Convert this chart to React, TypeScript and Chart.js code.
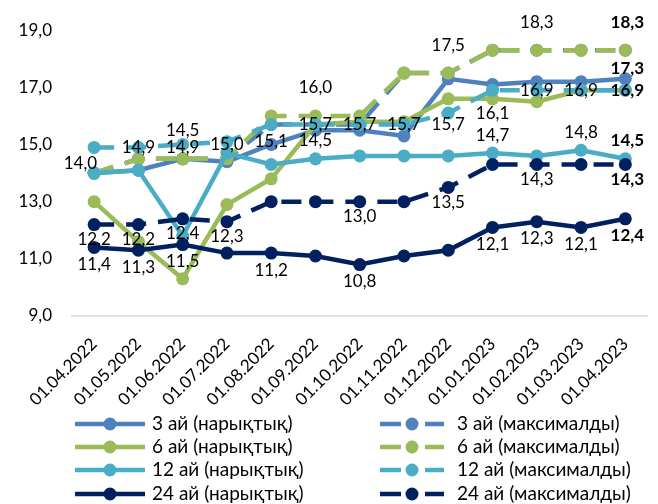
import React, { useEffect, useRef } from 'react';
import { Chart, registerables } from 'chart.js';

Chart.register(...registerables);

const categories = [
  '01.04.2022', '01.05.2022', '01.06.2022', '01.07.2022', '01.08.2022', '01.09.2022',
  '01.10.2022', '01.11.2022', '01.12.2022', '01.01.2023', '01.02.2023', '01.03.2023', '01.04.2023',
];

const seriesNames = [
  '3 ай (нарықтық)', '3 ай (максималды)',
  '6 ай (нарықтық)', '6 ай (максималды)',
  '12 ай (нарықтық)', '12 ай (максималды)',
  '24 ай (нарықтық)', '24 ай (максималды)',
];

const mkt3 = [14.0, 14.1, 14.5, 14.4, 15.0, 15.5, 15.5, 15.3, 17.3, 17.1, 17.2, 17.2, 17.3];
const max3 = [14.0, 14.5, 14.5, 14.5, 15.7, 15.7, 15.7, 17.5, 17.5, 18.3, 18.3, 18.3, 18.3];
const mkt6 = [13.0, 11.6, 10.3, 12.9, 13.8, 15.7, 15.8, 15.8, 16.6, 16.6, 16.5, 16.9, 16.9];
const max6 = [14.0, 14.5, 14.5, 14.5, 16.0, 16.0, 16.0, 17.5, 17.5, 18.3, 18.3, 18.3, 18.3];
const mkt12 = [14.0, 14.1, 11.8, 14.7, 14.3, 14.5, 14.6, 14.6, 14.6, 14.7, 14.6, 14.8, 14.5];
const max12 = [14.9, 14.9, 15.0, 15.1, 15.7, 15.7, 15.7, 15.7, 16.1, 16.9, 16.9, 16.9, 16.9];
const mkt24 = [11.4, 11.3, 11.5, 11.2, 11.2, 11.1, 10.8, 11.1, 11.3, 12.1, 12.3, 12.1, 12.4];
const max24 = [12.2, 12.2, 12.4, 12.3, 13.0, 13.0, 13.0, 13.0, 13.5, 14.3, 14.3, 14.3, 14.3];

// data-label values (null = no label)
const lblMkt3 = [14.0, null, null, null, null, null, null, null, null, null, null, null, 17.3];
const lblMax12 = [null, 14.9, 14.9, 15.0, 15.1, 15.7, 15.7, 15.7, 15.7, 16.1, 16.9, 16.9, 16.9];
const lblMax6 = [null, null, 14.5, null, null, 16.0, null, null, 17.5, null, 18.3, null, 18.3];
const lblMkt12 = [null, null, null, null, null, 14.5, null, null, null, 14.7, null, 14.8, 14.5];
const lblMkt24 = [11.4, 11.3, 11.5, null, 11.2, null, 10.8, null, null, 12.1, 12.3, 12.1, 12.4];
const lblMax24 = [12.2, 12.2, 12.4, 12.3, null, null, 13.0, null, 13.5, null, 14.3, null, 14.3];

const yTicks = [9, 11, 13, 15, 17, 19];

const colors = ['#4F81BD', '#4F81BD', '#9BBB59', '#9BBB59', '#4BACC6', '#4BACC6', '#002060', '#002060'];
const FONT = 'Lato';

const fmt = (v: number) => v.toFixed(1).replace('.', ',');

export default function App() {
  const ref = useRef<HTMLCanvasElement>(null);

  useEffect(() => {
    const series = [mkt3, max3, mkt6, max6, mkt12, max12, mkt24, max24];
    const DASH = [20, 12];
    const datasets = series.map((d, i) => ({
      label: seriesNames[i],
      data: d,
      borderColor: colors[i],
      backgroundColor: colors[i],
      borderWidth: 4.5,
      borderDash: i % 2 ? DASH : [],
      pointRadius: 6.5,
      pointHoverRadius: 6.5,
      pointBorderWidth: 0,
      pointBackgroundColor: colors[i],
      tension: 0,
      fill: false,
      order: 7 - i,
    }));

    const labelGroups = [
      { vals: lblMkt3, dy: -10, mode: 'mkt3' },
      { vals: lblMax12, dy: 0, mode: 'c' },
      { vals: lblMax6, dy: -28, mode: 'c' },
      { vals: lblMkt12, dy: -18, mode: 'c' },
      { vals: lblMkt24, dy: 17, mode: 'c' },
      { vals: lblMax24, dy: 15, mode: 'c' },
    ];

    const labelPlugin = {
      id: 'dataLabels',
      afterDatasetsDraw(chart: any) {
        const { ctx, scales } = chart;
        const xs = scales.x;
        const ys = scales.y;
        const last = categories.length - 1;
        ctx.save();
        ctx.fillStyle = '#000';
        ctx.textBaseline = 'middle';
        labelGroups.forEach((g) => {
          g.vals.forEach((v: number | null, i: number) => {
            if (v === null) return;
            const bold = i === last;
            ctx.font = `${bold ? 'bold ' : ''}17px ${FONT}`;
            let x = xs.getPixelForValue(i);
            const y = ys.getPixelForValue(v) + g.dy;
            if (g.mode === 'mkt3' && i === 0) {
              ctx.textAlign = 'right';
              x += 3;
            } else {
              ctx.textAlign = 'center';
              if (bold) x += 2;
            }
            ctx.fillText(fmt(v), x, y);
          });
        });
        ctx.restore();
      },
    };

    const legendPlugin = {
      id: 'customLegend',
      afterDraw(chart: any) {
        const { ctx } = chart;
        const rows = [424, 447, 470, 494];
        const cols = [
          { x0: 75, x1: 145, m: 110, tx: 152 },
          { x0: 380, x1: 444, m: 412, tx: 457 },
        ];
        ctx.save();
        ctx.font = `19px ${FONT}`;
        ctx.textBaseline = 'middle';
        ctx.textAlign = 'left';
        seriesNames.forEach((name, i) => {
          const c = cols[i % 2];
          const y = rows[Math.floor(i / 2)];
          ctx.strokeStyle = colors[i];
          ctx.fillStyle = colors[i];
          ctx.lineWidth = 4.5;
          ctx.lineCap = 'butt';
          ctx.beginPath();
          if (i % 2 === 0) {
            ctx.moveTo(c.x0, y);
            ctx.lineTo(c.x1, y);
          } else {
            ctx.moveTo(c.x0, y);
            ctx.lineTo(c.x0 + 21, y);
            ctx.moveTo(c.x1 - 19, y);
            ctx.lineTo(c.x1, y);
          }
          ctx.stroke();
          ctx.beginPath();
          ctx.arc(c.m, y, 6.5, 0, Math.PI * 2);
          ctx.fill();
          ctx.fillStyle = '#000';
          ctx.fillText(name, c.tx, y);
        });
        ctx.restore();
      },
    };

    const chart = new Chart(ref.current as HTMLCanvasElement, {
      type: 'line',
      data: { labels: categories, datasets: datasets as any },
      options: {
        animation: false,
        responsive: false,
        events: [],
        layout: { padding: { left: 18, top: 23, right: 0, bottom: 98 } },
        plugins: {
          legend: { display: false },
          tooltip: { enabled: false },
        },
        scales: {
          x: {
            offset: true,
            grid: { display: false, drawTicks: false },
            border: { display: true, color: '#D9D9D9', width: 1.5 },
            ticks: {
              minRotation: 45,
              maxRotation: 45,
              autoSkip: false,
              padding: 18,
              color: '#000',
              font: { family: FONT, size: 17 },
            },
            afterFit: (s: any) => { s.height = 90; },
          },
          y: {
            min: yTicks[0],
            max: yTicks[yTicks.length - 1],
            afterBuildTicks: (s: any) => { s.ticks = yTicks.map((v) => ({ value: v })); },
            grid: { display: false, drawTicks: false },
            border: { display: false },
            ticks: {
              padding: 20,
              color: '#000',
              font: { family: FONT, size: 17 },
              callback: (v: any) => fmt(Number(v)),
            },
            afterFit: (s: any) => { s.width = 54; },
          },
        },
      },
      plugins: [labelPlugin, legendPlugin],
    });
    return () => chart.destroy();
  }, []);

  return (
    <div style={{ position: 'absolute', left: 0, top: 0, width: 658, height: 504 }}>
      <canvas ref={ref} width={658} height={504} style={{ width: 658, height: 504, display: 'block' }} />
    </div>
  );
}
